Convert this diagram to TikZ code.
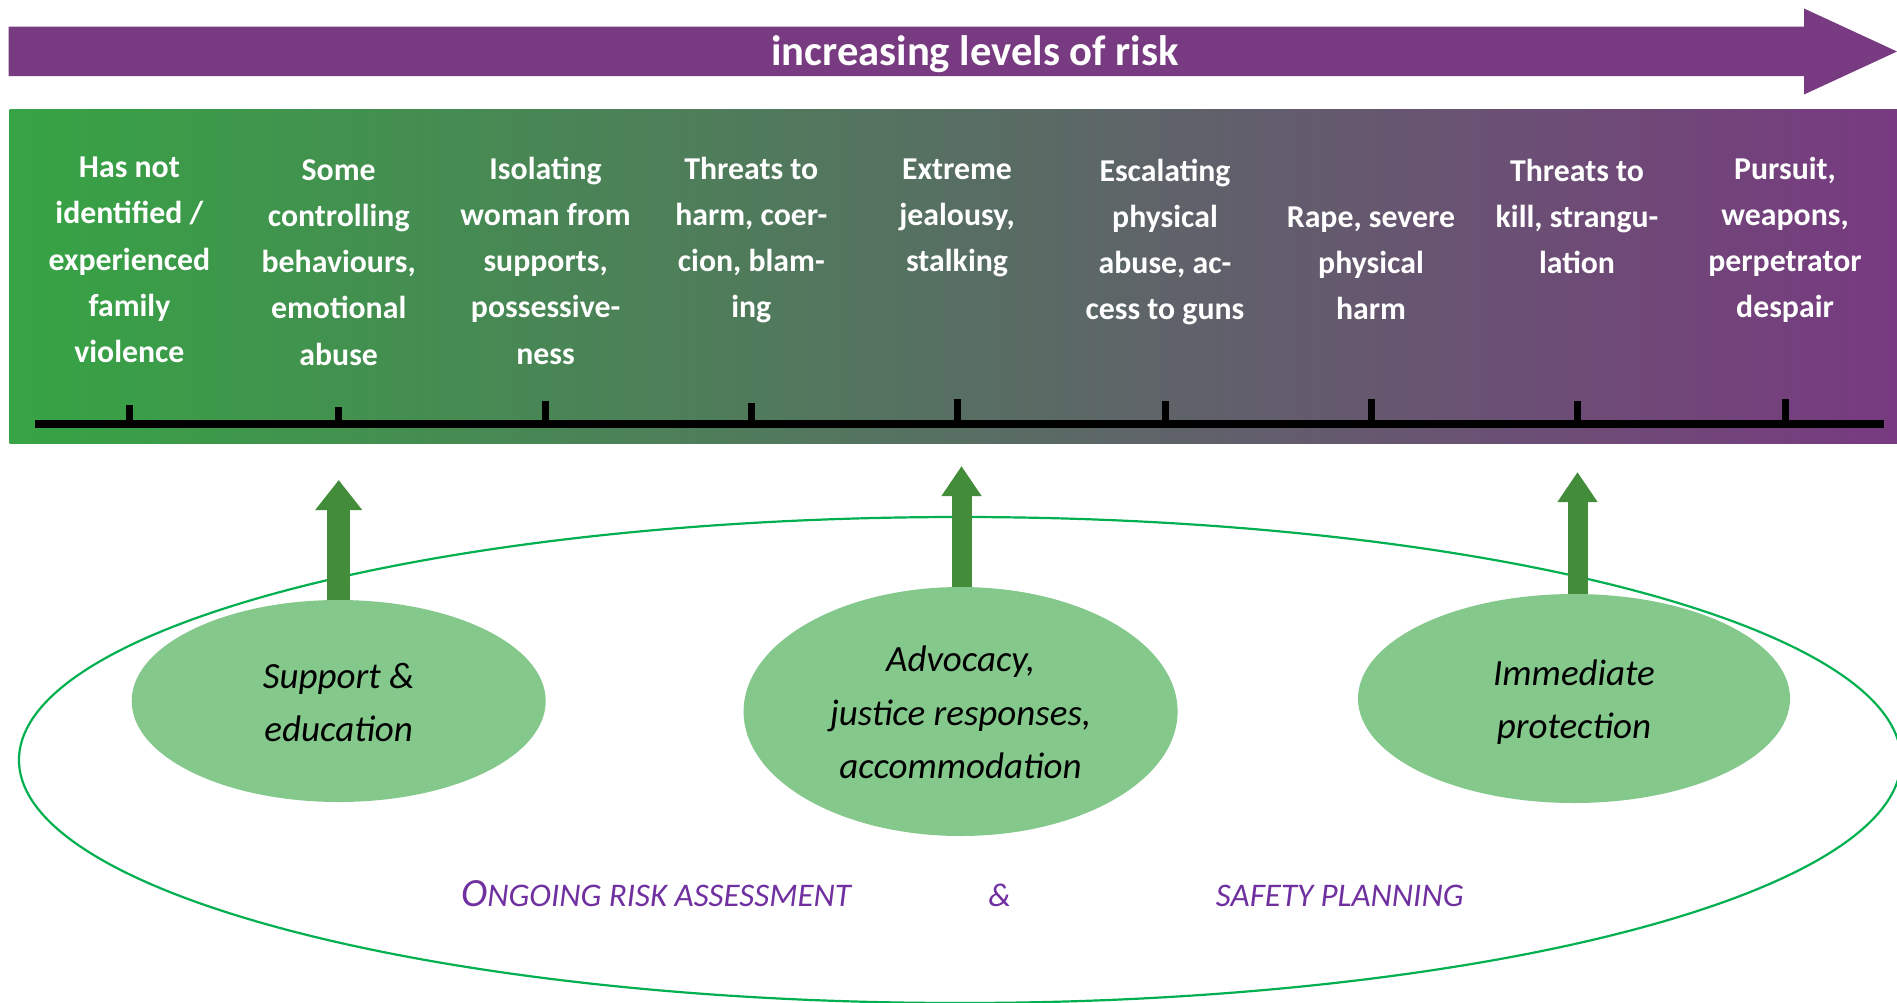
\documentclass[tikz,border=0pt]{standalone}
\usepackage{fontspec}
\setmainfont{Carlito}
\usetikzlibrary{shapes.geometric,arrows.meta}
\definecolor{riskpurple}{RGB}{120,58,128}
\definecolor{riskgreen}{RGB}{54,164,68}
\definecolor{ellfill}{RGB}{132,200,140}
\definecolor{arrgreen}{RGB}{66,140,58}
\definecolor{outlinegreen}{RGB}{0,176,80}
\definecolor{labpurple}{RGB}{112,48,160}
\begin{document}
\begin{tikzpicture}[x=1pt,y=-1pt,
  coltext/.style={anchor=base, inner sep=0pt, text=white, font=\fontsize{31.8}{46.3}\selectfont\bfseries},
  tickmark/.style={line width=7pt},
  service/.style={ellipse, fill=ellfill, inner sep=0pt, align=center, text=black, font=\fontsize{37}{53.5}\selectfont\itshape},
  blockarrow/.style={arrgreen, line width=#1},
  steplabel/.style={anchor=base west, inner sep=0pt, text=labpurple, font=\fontsize{33}{33}\selectfont\itshape}
]
\useasboundingbox (0,0) rectangle (1897,1002);
\fill[white] (0,0) rectangle (1897,1002);
\clip (0,0) rectangle (1897,1002);

% top arrow
\fill[riskpurple] (8.5,26.7) -- (1804,26.7) -- (1804,8.5) -- (1897,51.5) -- (1804,94.5) -- (1804,76.2) -- (8.5,76.2) -- cycle;
\node[anchor=base, inner sep=0pt, text=white, font=\fontsize{42.6}{42.6}\selectfont\bfseries] (ttl) at (975,65) {increasing levels of risk};

% gradient band
\shade[left color=riskgreen, right color=riskpurple] (9.7,109) rectangle (1897,443);
\draw[line width=7.5pt] (35,424) -- (1884,424);
\draw[tickmark] (129.4,405) -- (129.4,424);
\draw[tickmark] (338.7,407) -- (338.7,424);
\draw[tickmark] (545.6,401) -- (545.6,424);
\draw[tickmark] (751.3,403) -- (751.3,424);
\draw[tickmark] (957,399) -- (957,424);
\draw[tickmark] (1165,401) -- (1165,424);
\draw[tickmark] (1371.5,399) -- (1371.5,424);
\draw[tickmark] (1577,401) -- (1577,424);
\draw[tickmark] (1785,399) -- (1785,424);

\node[coltext] (c1) at (129.4,177.5) {\begin{tabular}[t]{@{}c@{}}Has not\\identified /\\experienced\\family\\violence\end{tabular}};
\node[coltext] (c2) at (338.7,180) {\begin{tabular}[t]{@{}c@{}}Some\\controlling\\behaviours,\\emotional\\abuse\end{tabular}};
\node[coltext] (c3) at (545.6,179) {\begin{tabular}[t]{@{}c@{}}Isolating\\woman from\\supports,\\possessive-\\ness\end{tabular}};
\node[coltext] (c4) at (751.3,179) {\begin{tabular}[t]{@{}c@{}}Threats to\\harm, coer-\\cion, blam-\\ing\end{tabular}};
\node[coltext] (c5) at (957,179) {\begin{tabular}[t]{@{}c@{}}Extreme\\jealousy,\\stalking\end{tabular}};
\node[coltext] (c6) at (1165,181) {\begin{tabular}[t]{@{}c@{}}Escalating\\physical\\abuse, ac-\\cess to guns\end{tabular}};
\node[coltext] (c7) at (1371,227) {\begin{tabular}[t]{@{}c@{}}Rape, severe\\physical\\harm\end{tabular}};
\node[coltext] (c8) at (1577,181) {\begin{tabular}[t]{@{}c@{}}Threats to\\kill, strangu-\\lation\end{tabular}};
\node[coltext] (c9) at (1785,179) {\begin{tabular}[t]{@{}c@{}}Pursuit,\\weapons,\\perpetrator\\despair\end{tabular}};

% outer ellipse
\draw[outlinegreen, line width=2.2pt] (960,760) ellipse [x radius=941, y radius=243];

% service ellipses
\node[service, minimum width=414pt, minimum height=202pt] (e1) at (338.7,701) {\rule{0pt}{44pt}Support \&\\education\strut};
\node[service, minimum width=434pt, minimum height=249pt] (e2) at (960.6,711.5) {\rule{0pt}{44pt}Advocacy,\\justice responses,\\accommodation\strut};
\node[service, minimum width=432pt, minimum height=209pt] (e3) at (1574,698.5) {\rule{0pt}{43pt}Immediate\\protection\strut};

% block arrows
\coordinate (t1) at (338.7,480);
\coordinate (t2) at (961.5,466);
\coordinate (t3) at (1577.5,472);
\draw[blockarrow=23pt, -{Triangle[width=45pt,length=30pt]}] (t1 |- e1.north) -- (t1);
\draw[blockarrow=20pt, -{Triangle[width=38pt,length=30pt]}] (t2 |- e2.north) -- (t2);
\draw[blockarrow=20pt, -{Triangle[width=38pt,length=30pt]}] (t3 |- e3.north) -- (t3);

% bottom labels
\node[steplabel] (b1) at (461,906.7) {{\fontsize{40}{40}\selectfont O}NGOING RISK ASSESSMENT};
\node[steplabel, anchor=base] (b2) at (999.5,906.7) {\&};
\node[steplabel] (b3) at (1215.7,906.7) {SAFETY PLANNING};
\end{tikzpicture}
\end{document}
